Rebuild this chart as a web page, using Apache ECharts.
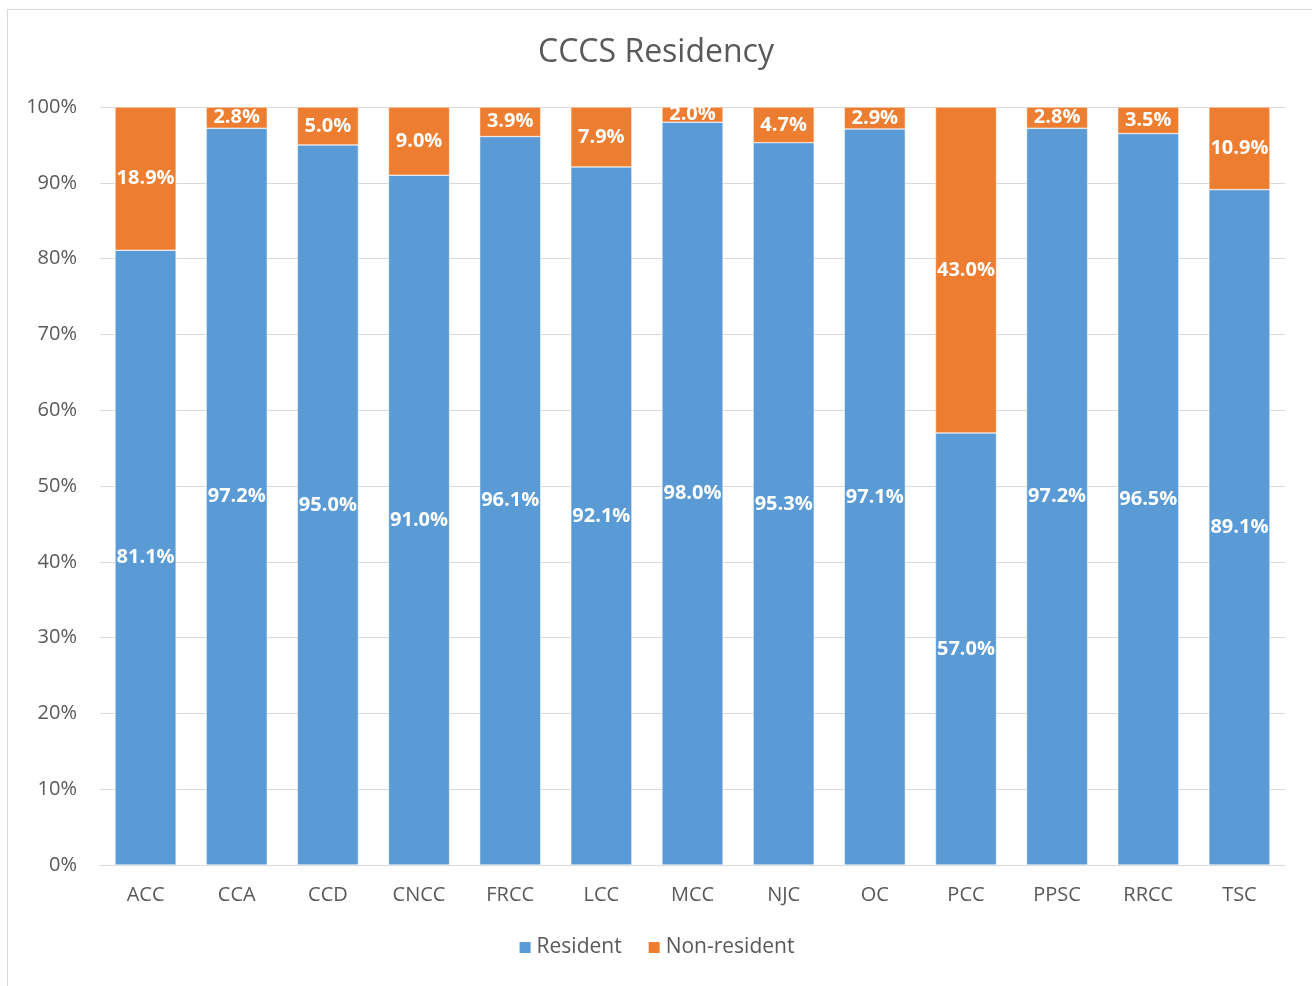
<!DOCTYPE html>
<html>
<head>
<meta charset="utf-8">
<script src="https://cdn.jsdelivr.net/npm/echarts@6/dist/echarts.min.js"></script>
<style>
  html, body { margin: 0; padding: 0; background: #fff; }
  #frame { position: absolute; left: 7px; top: 9px; width: 1320px; height: 990px; border: 1px solid #d9d9d9; box-sizing: border-box; }
  #chart { position: absolute; left: 0; top: 0; width: 1312px; height: 986px; }
</style>
</head>
<body>
<div id="frame"></div>
<div id="chart"></div>
<script>
// 学院名称
const colleges = ['ACC', 'CCA', 'CCD', 'CNCC', 'FRCC', 'LCC', 'MCC', 'NJC', 'OC', 'PCC', 'PPSC', 'RRCC', 'TSC'];
// 本州居民比例 (%)
const resident = [81.1, 97.2, 95.0, 91.0, 96.1, 92.1, 98.0, 95.3, 97.1, 57.0, 97.2, 96.5, 89.1];
// 非本州居民比例 (%)
const nonResident = [18.9, 2.8, 5.0, 9.0, 3.9, 7.9, 2.0, 4.7, 2.9, 43.0, 2.8, 3.5, 10.9];

const FONT = '"Open Sans", "Noto Sans", sans-serif';

const chart = echarts.init(document.getElementById('chart'));

const labelStyle = {
    show: true,
    position: 'inside',
    color: '#fff',
    fontWeight: 'bold',
    fontSize: 20,
    fontFamily: FONT,
    formatter: p => p.value.toFixed(1) + '%'
};

const option = {
    animation: false,
    title: {
        text: 'CCCS Residency',
        left: 'center',
        top: 32,
        textStyle: { fontSize: 32, fontWeight: 'normal', color: '#595959', fontFamily: FONT }
    },
    legend: {
        bottom: 23,
        left: 'center',
        itemWidth: 13,
        itemHeight: 13,
        itemGap: 25,
        icon: 'rect',
        textStyle: { fontSize: 21, color: '#595959', fontFamily: FONT }
    },
    grid: { left: 100, right: 27, top: 107, bottom: 121 },
    xAxis: {
        type: 'category',
        data: colleges,
        axisLine: { lineStyle: { color: '#d9d9d9', width: 1 } },
        axisTick: { show: false },
        axisLabel: { fontSize: 20, color: '#595959', fontFamily: FONT, margin: 20 }
    },
    yAxis: {
        type: 'value',
        min: 0,
        max: 100,
        interval: 10,
        axisLine: { show: false },
        axisTick: { show: false },
        splitLine: { lineStyle: { color: '#d9d9d9', width: 1 } },
        axisLabel: { fontSize: 20, color: '#595959', fontFamily: FONT, margin: 23, formatter: '{value}%' }
    },
    series: [
        {
            name: 'Resident',
            type: 'bar',
            stack: 'total',
            barWidth: '67%',
            data: resident,
            itemStyle: { color: '#5b9bd5', borderColor: '#fff', borderWidth: 0.5 },
            label: labelStyle
        },
        {
            name: 'Non-resident',
            type: 'bar',
            stack: 'total',
            barWidth: '67%',
            data: nonResident,
            itemStyle: { color: '#ed7d31', borderColor: '#fff', borderWidth: 0.5 },
            label: labelStyle
        }
    ]
};

chart.setOption(option);
</script>
</body>
</html>
